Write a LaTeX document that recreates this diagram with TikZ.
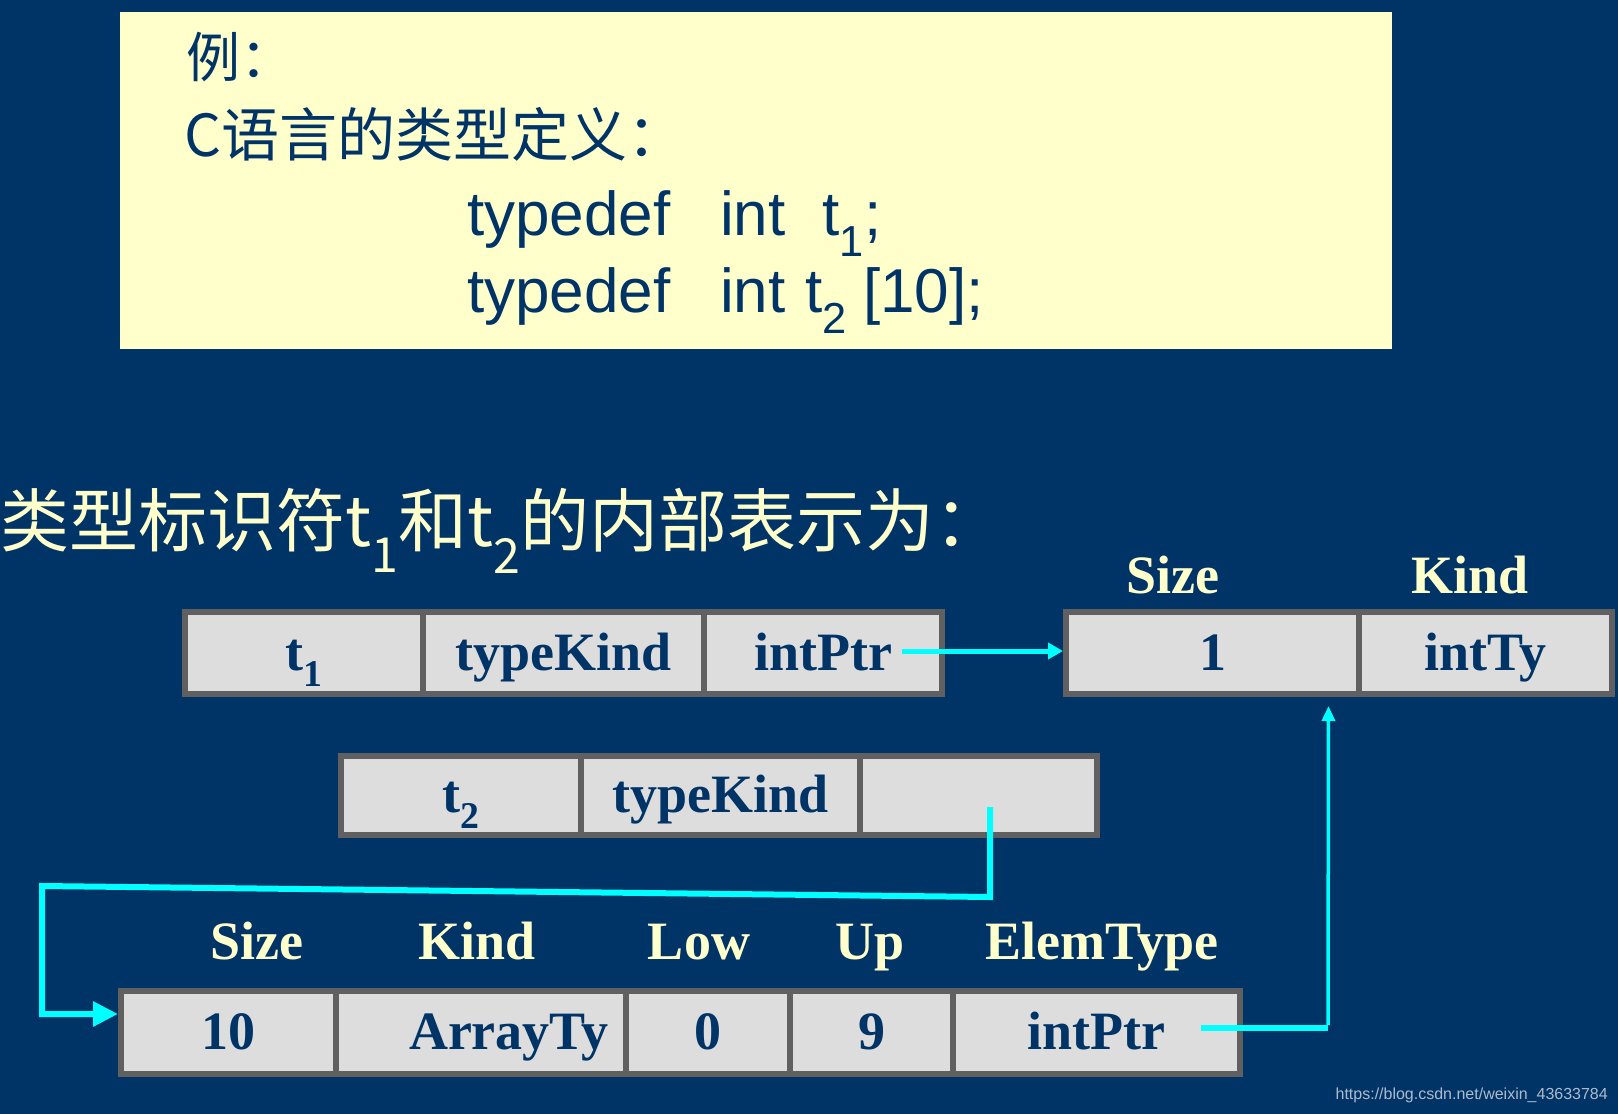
\documentclass[tikz,border=0pt]{standalone}
\usepackage{fontspec}
\setmainfont{Liberation Serif}
\newfontfamily\cjk{Noto Sans CJK SC}
\newfontfamily\codefont{Liberation Sans}
\usetikzlibrary{arrows.meta}
\definecolor{bgblue}{HTML}{003366}
\definecolor{navy}{HTML}{003366}
\definecolor{cream}{HTML}{FFFFCC}
\definecolor{cellgray}{HTML}{DDDDDD}
\definecolor{cellline}{HTML}{606060}
\definecolor{urlgray}{HTML}{AEBBCC}
\definecolor{linkcyan}{RGB}{0,255,255}

\begin{document}
\begin{tikzpicture}[x=1pt, y=-1pt,
    cell/.style={draw=cellline, fill=cellgray, line width=6pt, inner sep=0pt,
      text=navy, font=\fontsize{54}{60}\selectfont\bfseries,
      text height=40pt, text depth=6pt},
    fieldname/.style={anchor=base, inner sep=0pt, text=cream,
      font=\fontsize{54}{60}\selectfont\bfseries},
    codeline/.style={anchor=base west, inner sep=0pt, text=navy,
      font=\fontsize{62}{70}\selectfont\codefont},
    cjkline/.style={anchor=west, inner sep=0pt},
    link/.style={draw=linkcyan, line width=5pt}]
      \path[use as bounding box, fill=bgblue] (0,0) rectangle (1618,1114);

      % the example box
      \node[fill=cream, minimum width=1272pt, minimum height=337pt, inner sep=0pt] (defbox) at (756,180.5){};
      \node[cjkline, text=navy, font=\fontsize{54}{60}\selectfont\cjk] (exa) at (186,57){例：};
      \node[cjkline, text=navy, font=\fontsize{58}{64}\selectfont\cjk] (ctype) at (184,134){C语言的类型定义：};
      \node[codeline] (tdefa) at (467,235){typedef};
      \node[codeline] (inta) at (720,235){int};
      \node[codeline] (tone) at (822,235){t\textsubscript{1};};
      \node[codeline] (tdefb) at (467,312){typedef};
      \node[codeline] (intb) at (720,312){int};
      \node[codeline] (ttwo) at (805,312){t\textsubscript{2}};
      \node[codeline] (dims) at (863,312){[10];};

      \node[cjkline, text=cream, font=\fontsize{69}{74}\selectfont\cjk] (intro) at (0,531){类型标识符t\textsubscript{1}和t\textsubscript{2}的内部表示为：};

      % t1
      \node[cell, minimum width=238pt, minimum height=82pt] (t1name) at (304,653){t\textsubscript{1}};
      \node[cell, minimum width=281pt, minimum height=82pt] (t1kind) at (563.5,653){typeKind};
      \node[cell, minimum width=238pt, minimum height=82pt] (t1ptr) at (823,653){intPtr};

      % int descriptor
      \node[fieldname] (isize) at (1173,593){Size};
      \node[fieldname] (ikind) at (1470,593){Kind};
      \node[cell, minimum width=293pt, minimum height=82pt] (intsize) at (1212.5,653){1};
      \node[cell, minimum width=253pt, minimum height=82pt] (intkind) at (1485.5,653){intTy};

      % t2
      \node[cell, minimum width=240pt, minimum height=79pt] (t2name) at (461,795.5){t\textsubscript{2}};
      \node[cell, minimum width=279pt, minimum height=79pt] (t2kind) at (720.5,795.5){typeKind};
      \node[cell, minimum width=237pt, minimum height=79pt] (t2ptr) at (978.5,795.5){};

      % array descriptor
      \node[fieldname] (asize) at (257,959){Size};
      \node[fieldname] (akind) at (477,959){Kind};
      \node[fieldname] (alow) at (699,959){Low};
      \node[fieldname] (aup) at (870,959){Up};
      \node[fieldname] (aelem) at (1102,959){ElemType};
      \node[cell, minimum width=215pt, minimum height=83pt] (arrsize) at (228.5,1032.5){10};
      \node[cell, minimum width=290pt, minimum height=83pt] (arrkind) at (481,1032.5){\hspace*{56pt}ArrayTy};
      \node[cell, minimum width=164pt, minimum height=83pt] (arrlow) at (708,1032.5){0};
      \node[cell, minimum width=163pt, minimum height=83pt] (arrup) at (871.5,1032.5){9};
      \node[cell, minimum width=287pt, minimum height=83pt] (arrelem) at (1096.5,1032.5){intPtr};

      % pointers
      \draw[link, -{Triangle[length=15pt,width=16pt]}] ([xshift=-43pt,yshift=2pt]t1ptr.east) -- ([yshift=2pt]intsize.west);

      \coordinate (t2out) at (990,807);
      \coordinate (bendr) at (990,897);
      \coordinate (bendl) at (42,886);
      \draw[link, line width=6pt, -{Triangle[length=25pt,width=24pt]}] (t2out) -- (bendr) -- (bendl) |- ([yshift=18.5pt]arrsize.west);

      \coordinate (elemcorner) at (1328,1028);
      \draw[link, line width=6pt] ([xshift=-42pt,yshift=4.5pt]arrelem.east) -- (elemcorner);
      \draw[link, line width=3.5pt, -{Triangle[length=15pt,width=13pt]}] ([yshift=3pt]elemcorner) -- ([xshift=116pt,yshift=-9pt]intsize.south);

      \node[anchor=base east, inner sep=0pt, text=urlgray, font=\fontsize{16}{18}\selectfont\codefont] (url) at (1608,1099){https://blog.csdn.net/weixin\_43633784};

    \end{tikzpicture}
\end{document}
